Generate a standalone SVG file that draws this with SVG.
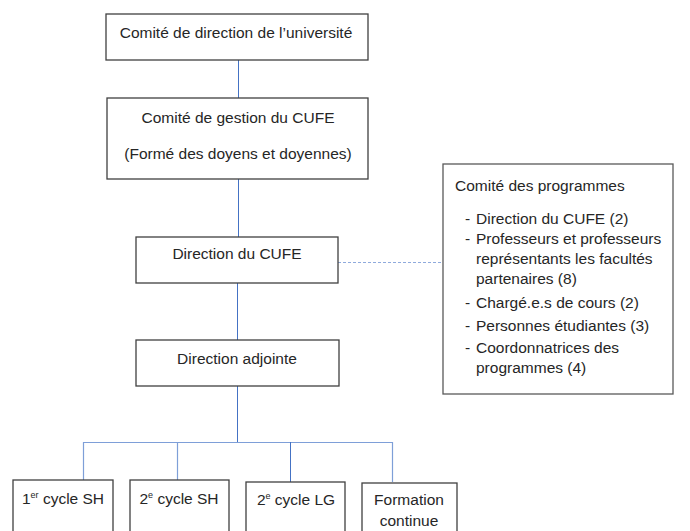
<svg xmlns="http://www.w3.org/2000/svg" width="690" height="531" viewBox="0 0 690 531">
<style>
.box{fill:#fff;stroke:#404040;stroke-width:1.3}
.t{font-family:"Liberation Sans",Arial,sans-serif;font-size:15.5px;fill:#262626}
.c{text-anchor:middle}
.ln{stroke:#4472C4;stroke-width:1;fill:none}
.lt{stroke:#7E9FD8;stroke-width:1.2;fill:none}
.sup{font-size:9px}
</style>
<rect width="690" height="531" fill="#fff"/>
<g id="connectors">
<line class="ln" x1="238.5" y1="60" x2="238.5" y2="98"/>
<line class="ln" x1="238.5" y1="179" x2="238.5" y2="237"/>
<line class="ln" x1="237.5" y1="283" x2="237.5" y2="340"/>
<line class="ln" x1="237.5" y1="386" x2="237.5" y2="442"/>
<polyline class="lt" points="83.5,480 83.5,442.5 392.5,442.5 392.5,482"/>
<line class="lt" x1="177.5" y1="442" x2="177.5" y2="480"/>
<line class="ln" x1="290.5" y1="442" x2="290.5" y2="482"/>
<line stroke="#8FAADC" stroke-width="1" stroke-dasharray="3,2" x1="338" y1="262.5" x2="443" y2="262.5"/>
</g>
<g id="n-universite">
<rect class="box" x="106" y="14" width="262" height="46"/>
<text class="t c" x="236" y="38">Comité de direction de l’université</text>
</g>
<g id="n-gestion">
<rect class="box" x="107" y="98" width="261" height="81"/>
<text class="t c" x="238" y="123">Comité de gestion du CUFE</text>
<text class="t c" x="238" y="159">(Formé des doyens et doyennes)</text>
</g>
<g id="n-direction">
<rect class="box" x="136" y="237" width="202" height="46"/>
<text class="t c" x="237" y="259">Direction du CUFE</text>
</g>
<g id="n-adjointe">
<rect class="box" x="136" y="340" width="203" height="46"/>
<text class="t c" x="237" y="364">Direction adjointe</text>
</g>
<g id="n-programmes">
<rect class="box" x="443" y="164" width="230" height="230" style="stroke:#595959"/>
<text class="t" x="455" y="191">Comité des programmes</text>
<text class="t" x="465" y="224">-</text><text class="t" x="476" y="224">Direction du CUFE (2)</text>
<text class="t" x="465" y="244">-</text><text class="t" x="476" y="244">Professeurs et professeurs</text>
<text class="t" x="476" y="264">représentants les facultés</text>
<text class="t" x="476" y="284">partenaires (8)</text>
<text class="t" x="465" y="308">-</text><text class="t" x="476" y="308">Chargé.e.s de cours (2)</text>
<text class="t" x="465" y="331">-</text><text class="t" x="476" y="331">Personnes étudiantes (3)</text>
<text class="t" x="465" y="353">-</text><text class="t" x="476" y="353">Coordonnatrices des</text>
<text class="t" x="476" y="373">programmes (4)</text>
</g>
<g id="n-1cycle-sh">
<rect class="box" x="13" y="480" width="100" height="70"/>
<text class="t c" x="63" y="504">1<tspan class="sup" dy="-6">er</tspan><tspan dy="6"> cycle SH</tspan></text>
</g>
<g id="n-2cycle-sh">
<rect class="box" x="130" y="480" width="99" height="70"/>
<text class="t c" x="179" y="504">2<tspan class="sup" dy="-6">e</tspan><tspan dy="6"> cycle SH</tspan></text>
</g>
<g id="n-2cycle-lg">
<rect class="box" x="246" y="482" width="99" height="70"/>
<text class="t c" x="296" y="505">2<tspan class="sup" dy="-6">e</tspan><tspan dy="6"> cycle LG</tspan></text>
</g>
<g id="n-formation">
<rect class="box" x="362" y="483" width="95" height="70"/>
<text class="t c" x="409" y="505">Formation</text>
<text class="t c" x="409" y="526">continue</text>
</g>
</svg>
